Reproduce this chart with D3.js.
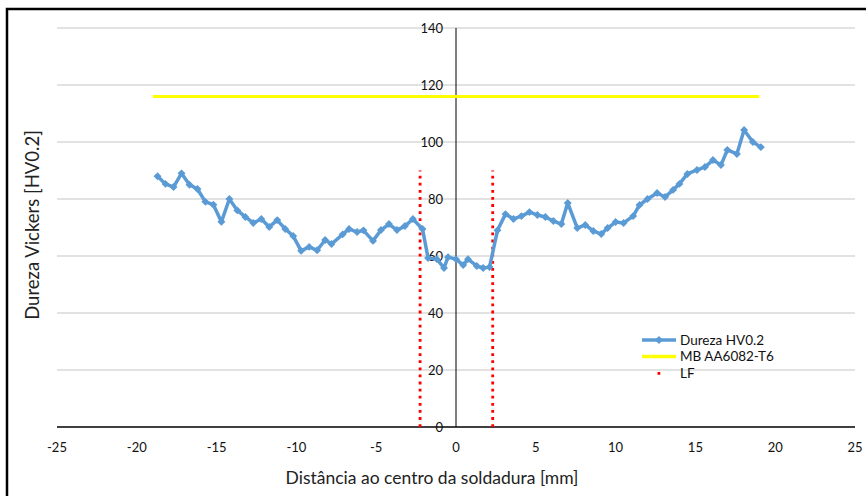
<!DOCTYPE html>
<html lang="pt">
<head>
<meta charset="UTF-8">
<title>Dureza Vickers</title>
<script src="https://d3js.org/d3.v7.min.js"></script>
<style>
    body { margin: 0; background: #fff; }
    svg { display: block; font-family: Lato, "Open Sans", sans-serif; }
</style>
</head>
<body>
<svg width="866" height="496"></svg>
<script>
// distance to weld centre [mm] and hardness HV0.2
let dist = [-18.7, -18.2, -17.7, -17.2, -16.7, -16.2, -15.7, -15.2, -14.7, -14.2,
    -13.7, -13.2, -12.7, -12.2, -11.7, -11.2, -10.7, -10.2, -9.7, -9.2,
    -8.7, -8.2, -7.8, -7.1, -6.7, -6.2, -5.8, -5.2, -4.7, -4.2,
    -3.7, -3.2, -2.7, -2.1, -1.75, -1.2, -0.75, -0.5, 0, 0.45,
    0.75, 1.3, 1.7, 2.1, 2.6, 3.1, 3.6, 4.1, 4.6, 5.1,
    5.6, 6.1, 6.6, 7.0, 7.6, 8.1, 8.6, 9.1, 9.5, 10.0,
    10.5, 11.1, 11.5, 12.0, 12.6, 13.1, 13.6, 14.0, 14.5, 15.1,
    15.6, 16.1, 16.6, 17.0, 17.6, 18.05, 18.6, 19.1];
let hardness = [88, 85.3, 84.2, 89, 85, 83.5, 79, 78, 72, 80,
    76, 73.7, 71.6, 73, 70.2, 72.6, 69.5, 67, 61.8, 63.2,
    62, 65.6, 64.2, 67.6, 69.5, 68.4, 69, 65.3, 69.1, 71.2,
    69.1, 70.5, 73, 69.5, 59.3, 58.9, 55.8, 59.6, 58.9, 56.8,
    58.9, 56.5, 55.8, 56.1, 69, 74.7, 73, 74, 75.4, 74.4,
    73.7, 72.3, 71.2, 78.6, 69.8, 70.9, 68.8, 67.7, 69.8, 71.9,
    71.6, 74, 77.9, 80, 82.1, 80.7, 83.2, 85.3, 88.8, 90.2,
    91.2, 93.7, 91.9, 97.2, 95.8, 104.2, 100, 98.2];

// base material reference line
let mbX = [-19, 19];
let mbValue = 116;
// fusion line positions
let lfX = [-2.25, 2.3];
let lfTop = 90;

let xTicks = [-25, -20, -15, -10, -5, 0, 5, 10, 15, 20, 25];
let yTicks = [0, 20, 40, 60, 80, 100, 120, 140];
let legendNames = ["Dureza HV0.2", "MB AA6082-T6", "LF"];

let svg = d3.select('svg');

// outer frame
svg.append('rect')
    .attr('x', 7).attr('y', 9)
    .attr('width', 900).attr('height', 600)
    .attr('fill', 'none').attr('stroke', '#000').attr('stroke-width', 2.5);

let xscale = d3.scaleLinear().domain([-25, 25]).range([57, 855]);
let yscale = d3.scaleLinear().domain([0, 140]).range([427, 28]);

// gridlines
svg.append('g').selectAll('line').data(yTicks.filter(d => d > 0)).enter().append('line')
    .attr('x1', xscale(-25)).attr('x2', xscale(25))
    .attr('y1', d => yscale(d)).attr('y2', d => yscale(d))
    .attr('stroke', '#d9d9d9').attr('stroke-width', 1.3);

// x axis line
svg.append('line')
    .attr('x1', xscale(-25)).attr('x2', xscale(25))
    .attr('y1', yscale(0)).attr('y2', yscale(0))
    .attr('stroke', '#000').attr('stroke-width', 1.3);

// y axis line at x = 0
svg.append('line')
    .attr('x1', xscale(0)).attr('x2', xscale(0))
    .attr('y1', yscale(0)).attr('y2', yscale(140))
    .attr('stroke', '#000').attr('stroke-width', 1);

// tick labels
svg.append('g').selectAll('text').data(xTicks).enter().append('text')
    .attr('x', d => xscale(d)).attr('y', 452)
    .attr('text-anchor', 'middle')
    .style('font-size', '13px').attr('fill', '#111')
    .text(d => d);

svg.append('g').selectAll('text').data(yTicks).enter().append('text')
    .attr('x', 443).attr('y', d => yscale(d) + 4.5)
    .attr('text-anchor', 'end')
    .style('font-size', '13px').attr('fill', '#111')
    .text(d => d);

// axis titles
svg.append('text')
    .attr('x', 432).attr('y', 484)
    .attr('text-anchor', 'middle')
    .style('font-size', '17.5px').attr('fill', '#222')
    .text('Distância ao centro da soldadura [mm]');

svg.append('text')
    .attr('transform', 'translate(39,' + 225 + ') rotate(-90)')
    .attr('text-anchor', 'middle')
    .style('font-size', '18.5px').attr('fill', '#222')
    .text('Dureza Vickers [HV0.2]');

// MB line
svg.append('line')
    .attr('x1', xscale(mbX[0])).attr('x2', xscale(mbX[1]))
    .attr('y1', yscale(mbValue)).attr('y2', yscale(mbValue))
    .attr('stroke', '#ffff00').attr('stroke-width', 3);

// LF dotted lines
svg.append('g').selectAll('line').data(lfX).enter().append('line')
    .attr('x1', d => xscale(d)).attr('x2', d => xscale(d))
    .attr('y1', yscale(0)).attr('y2', yscale(lfTop))
    .attr('stroke', '#ff0000').attr('stroke-width', 2.8)
    .attr('stroke-dasharray', '2.8,4.3');

// hardness profile
let pts = dist.map((d, i) => [d, hardness[i]]);
let line = d3.line().x(d => xscale(d[0])).y(d => yscale(d[1]));
svg.append('path').datum(pts)
    .attr('d', line)
    .attr('fill', 'none').attr('stroke', '#5b9bd5')
    .attr('stroke-width', 3.5).attr('stroke-linejoin', 'round');

let diamond = d3.symbol().type(d3.symbolDiamond2).size(40);
svg.append('g').selectAll('path').data(pts).enter().append('path')
    .attr('d', diamond)
    .attr('transform', d => 'translate(' + xscale(d[0]) + ',' + yscale(d[1]) + ')')
    .attr('fill', '#5b9bd5');

// legend
let lg = svg.append('g').attr('transform', 'translate(642,340)');
lg.append('line').attr('x1', 0).attr('x2', 34).attr('y1', 0).attr('y2', 0)
    .attr('stroke', '#5b9bd5').attr('stroke-width', 3.5);
lg.append('path').attr('d', diamond).attr('transform', 'translate(17,0)').attr('fill', '#5b9bd5');
lg.append('line').attr('x1', 0).attr('x2', 34).attr('y1', 16.5).attr('y2', 16.5)
    .attr('stroke', '#ffff00').attr('stroke-width', 3.5);
lg.append('rect').attr('x', 15.5).attr('y', 32).attr('width', 2.8).attr('height', 2.8)
    .attr('fill', '#ff0000');
lg.selectAll('text').data(legendNames).enter().append('text')
    .attr('x', 38).attr('y', (d, i) => i * 16.5 + 4.5)
    .style('font-size', '13.5px').attr('fill', '#111')
    .text(d => d);
</script>
</body>
</html>
